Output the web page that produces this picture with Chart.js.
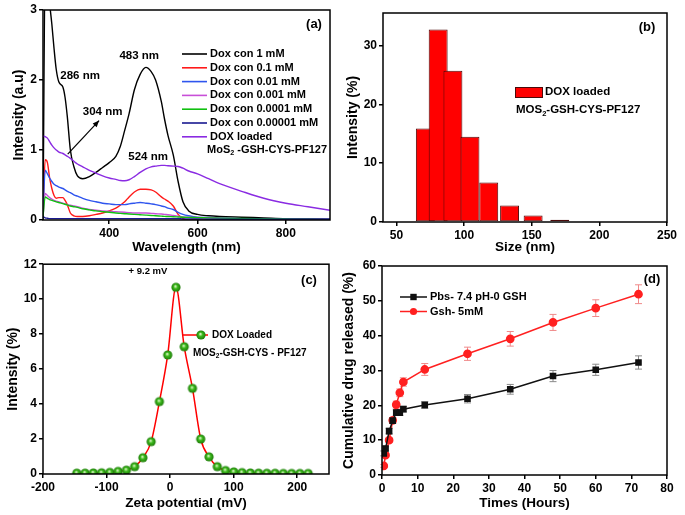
<!DOCTYPE html>
<html>
<head>
<meta charset="utf-8">
<script src="https://cdn.jsdelivr.net/npm/chart.js@4.4.1/dist/chart.umd.min.js"></script>
<style>
  html, body { margin: 0; padding: 0; background: #fff; }
  #wrap { position: relative; width: 685px; height: 515px; overflow: hidden; }
  canvas { position: absolute; }
</style>
</head>
<body>
<div id="wrap">
  <canvas id="chartA" width="340" height="255" style="left:0;top:0"></canvas>
  <canvas id="chartB" width="345" height="255" style="left:340px;top:0"></canvas>
  <canvas id="chartC" width="340" height="260" style="left:0;top:255px"></canvas>
  <canvas id="chartD" width="345" height="260" style="left:340px;top:255px"></canvas>
</div>
<script>
// (a) UV-vis spectra
const wavelengths = [250, 255, 260, 265, 270, 275, 280, 286, 295, 300, 305, 312, 320, 328, 340, 355, 370, 385, 400, 415, 425, 435, 445, 457, 470, 483, 495, 505, 518, 525, 533, 545, 556, 567, 580, 600, 625, 650, 700, 750, 800, 850, 900];
const dox1mM = [0, 3.6, 3.5, 3.1, 2.8, 2.45, 2.15, 1.97, 1.9, 1.75, 1.48, 1.0, 0.76, 0.63, 0.59, 0.62, 0.68, 0.75, 0.82, 0.91, 1.05, 1.28, 1.52, 1.86, 2.08, 2.18, 2.12, 2.0, 1.69, 1.45, 1.21, 0.93, 0.55, 0.26, 0.13, 0.08, 0.06, 0.05, 0.04, 0.03, 0.02, 0.02, 0.01];
const dox01mM = [0.1, 0.86, 0.82, 0.6, 0.45, 0.35, 0.31, 0.32, 0.32, 0.28, 0.22, 0.1, 0.06, 0.05, 0.05, 0.06, 0.08, 0.1, 0.13, 0.17, 0.21, 0.26, 0.33, 0.4, 0.44, 0.44, 0.43, 0.4, 0.33, 0.3, 0.27, 0.2, 0.08, 0.02, 0, 0, 0, 0, 0, 0, 0, 0, 0];
const dox001mM = [0.1, 0.71, 0.66, 0.6, 0.55, 0.51, 0.49, 0.47, 0.45, 0.43, 0.41, 0.39, 0.36, 0.34, 0.31, 0.28, 0.26, 0.24, 0.23, 0.22, 0.22, 0.22, 0.23, 0.24, 0.25, 0.24, 0.23, 0.22, 0.2, 0.19, 0.17, 0.15, 0.11, 0.08, 0.06, 0.04, 0.035, 0.03, 0.02, 0.015, 0.01, 0.01, 0.01];
const dox0001mM = [0.05, 0.38, 0.35, 0.32, 0.3, 0.28, 0.27, 0.26, 0.24, 0.23, 0.22, 0.21, 0.2, 0.19, 0.17, 0.15, 0.14, 0.13, 0.125, 0.12, 0.115, 0.11, 0.105, 0.1, 0.1, 0.1, 0.095, 0.09, 0.085, 0.08, 0.075, 0.065, 0.055, 0.045, 0.04, 0.035, 0.03, 0.025, 0.02, 0.015, 0.01, 0.01, 0.01];
const dox00001mM = [0.05, 0.33, 0.31, 0.29, 0.28, 0.27, 0.26, 0.25, 0.235, 0.225, 0.215, 0.2, 0.19, 0.18, 0.16, 0.145, 0.13, 0.12, 0.11, 0.1, 0.095, 0.09, 0.085, 0.08, 0.075, 0.07, 0.065, 0.06, 0.055, 0.052, 0.05, 0.046, 0.043, 0.04, 0.037, 0.034, 0.03, 0.027, 0.022, 0.018, 0.014, 0.01, 0.008];
const dox000001mM = [0.05, 0.03, 0.025, 0.02, 0.02, 0.02, 0.02, 0.02, 0.02, 0.02, 0.02, 0.02, 0.02, 0.02, 0.02, 0.02, 0.02, 0.02, 0.02, 0.02, 0.02, 0.02, 0.02, 0.02, 0.02, 0.02, 0.02, 0.02, 0.02, 0.02, 0.02, 0.02, 0.02, 0.015, 0.015, 0.015, 0.01, 0.01, 0.01, 0.01, 0.01, 0.01, 0.01];
const doxLoaded = [1.2, 1.19, 1.17, 1.12, 1.07, 1.03, 1.0, 0.97, 0.95, 0.93, 0.91, 0.88, 0.84, 0.8, 0.76, 0.71, 0.67, 0.63, 0.6, 0.58, 0.565, 0.56, 0.575, 0.62, 0.68, 0.73, 0.76, 0.77, 0.78, 0.78, 0.775, 0.77, 0.765, 0.74, 0.7, 0.66, 0.59, 0.52, 0.41, 0.31, 0.24, 0.19, 0.14];
const uvLabels = ['Dox con 1 mM', 'Dox con 0.1 mM', 'Dox con 0.01 mM', 'Dox con 0.001 mM', 'Dox con 0.0001 mM', 'Dox con 0.00001 mM', 'DOX loaded'];
const uvXTicks = [400, 600, 800];
const uvYTicks = [0, 1, 2, 3];

// (b) size distribution
const sizeCenters = [71.3, 80.8, 91.7, 104.3, 118.2, 133.6, 151.0, 170.7, 193.8];
const sizeIntensity = [15.9, 32.7, 25.7, 14.5, 6.7, 2.8, 1.1, 0.4, 0.1];
const sizeXTicks = [50, 100, 150, 200, 250];
const sizeYTicks = [0, 10, 20, 30];

// (c) zeta potential
const zetaPotential = [-146.8, -133.8, -120.8, -107.8, -94.8, -81.8, -68.8, -55.8, -42.8, -29.8, -16.8, -3.8, 9.2, 22.2, 35.2, 48.2, 61.2, 74.2, 87.2, 100.2, 113.2, 126.2, 139.2, 152.2, 165.2, 178.2, 191.2, 204.2, 217.2];
const zetaIntensity = [0.05, 0.05, 0.06, 0.07, 0.09, 0.15, 0.22, 0.42, 0.93, 1.85, 4.14, 6.81, 10.68, 7.28, 4.9, 2.0, 0.98, 0.42, 0.2, 0.12, 0.08, 0.06, 0.05, 0.04, 0.04, 0.03, 0.03, 0.03, 0.03];
const zetaXTicks = [-200, -100, 0, 100, 200];
const zetaYTicks = [0, 2, 4, 6, 8, 10, 12];

// (d) drug release
const releaseHours = [0.5, 1, 2, 3, 4, 5, 6, 12, 24, 36, 48, 60, 72];
const releasePbs = [6.2, 7.6, 12.6, 15.6, 17.9, 17.9, 18.9, 20.1, 21.9, 24.6, 28.4, 30.2, 32.3];
const releasePbsErr = [0.7, 0.7, 0.8, 0.8, 0.8, 0.8, 0.8, 1.0, 1.2, 1.4, 1.6, 1.6, 1.9];
const releaseGsh = [2.6, 5.7, 10.0, 15.7, 20.2, 23.6, 26.7, 30.3, 34.8, 39.1, 43.8, 47.9, 51.9];
const releaseGshErr = [0.4, 0.5, 0.6, 0.8, 1.0, 1.1, 1.2, 1.7, 1.9, 2.1, 2.3, 2.4, 2.7];
const releaseXTicks = [0, 10, 20, 30, 40, 50, 60, 70, 80];
const releaseYTicks = [0, 10, 20, 30, 40, 50, 60];

const FONT = '"Liberation Sans", Arial, Helvetica, sans-serif';
Chart.defaults.font.family = FONT;
Chart.defaults.color = '#000';

function pts(xs, ys) {
  return xs.map((x, i) => ({ x: x, y: ys[i] }));
}

// linear axis with fixed ticks and a fixed box size
function axis(o) {
  return {
    type: 'linear',
    min: o.min,
    max: o.max,
    offset: false,
    afterBuildTicks: s => { s.ticks = o.ticks.map(v => ({ value: v })); },
    afterFit: s => {
      if (o.width) s.width = o.width;
      if (o.height) s.height = o.height;
    },
    grid: { display: true, offset: false, drawOnChartArea: false, drawTicks: true, tickLength: 4, color: '#000', lineWidth: 1.5 },
    border: { display: false },
    ticks: { color: '#000', padding: 2, maxRotation: 0, autoSkip: false, font: { size: 12, weight: 'bold' } },
    title: {
      display: true, text: o.title, color: '#000',
      font: { size: o.titleSize || 14, weight: 'bold' },
      padding: { top: o.titlePad || 0, bottom: o.titlePad || 0 }
    }
  };
}

function text(ctx, s, x, y, size, align) {
  ctx.font = 'bold ' + size + 'px ' + FONT;
  ctx.textAlign = align || 'left';
  ctx.textBaseline = 'middle';
  ctx.fillStyle = '#000';
  ctx.fillText(s, x, y);
}

// text with a subscript part: parts = [[str, isSub], ...]
function richText(ctx, parts, x, y, size) {
  let cx = x;
  ctx.textAlign = 'left';
  ctx.textBaseline = 'middle';
  ctx.fillStyle = '#000';
  parts.forEach(p => {
    const sz = p[1] ? size * 0.65 : size;
    ctx.font = 'bold ' + sz + 'px ' + FONT;
    ctx.fillText(p[0], cx, y + (p[1] ? size * 0.32 : 0));
    cx += ctx.measureText(p[0]).width;
  });
}

const framePlugin = {
  id: 'frame',
  afterDraw(chart) {
    const ctx = chart.ctx, a = chart.chartArea;
    ctx.save();
    ctx.strokeStyle = '#000';
    ctx.lineWidth = 1.5;
    ctx.strokeRect(a.left, a.top, a.right - a.left, a.bottom - a.top);
    ctx.restore();
  }
};

const baseOptions = {
  responsive: false,
  animation: false,
  devicePixelRatio: 1,
  plugins: { legend: { display: false }, tooltip: { enabled: false } }
};

// ---------- (a) ----------
const uvSeries = [dox1mM, dox01mM, dox001mM, dox0001mM, dox00001mM, dox000001mM, doxLoaded];
const uvColors = ['#000000', '#ff1a1a', '#2f55ee', '#c84fd8', '#10c010', '#1a1a90', '#8a2be2'];

new Chart(document.getElementById('chartA'), {
  type: 'line',
  data: {
    datasets: uvSeries.map((s, i) => ({
      label: uvLabels[i],
      data: pts(wavelengths, s),
      borderColor: uvColors[i],
      borderWidth: 1.4,
      pointRadius: 0,
      cubicInterpolationMode: 'monotone'
    })).reverse()
  },
  options: Object.assign({}, baseOptions, {
    layout: { padding: { top: 10, right: 10, left: 0, bottom: 0 } },
    scales: {
      x: axis({ min: 250, max: 900, ticks: uvXTicks, height: 35, title: 'Wavelength (nm)', titleSize: 13.5 }),
      y: axis({ min: 0, max: 3, ticks: uvYTicks, width: 43, title: 'Intensity (a.u)', titlePad: 11 })
    }
  }),
  plugins: [framePlugin, {
    id: 'decorA',
    afterDraw(chart) {
      const ctx = chart.ctx, xs = chart.scales.x, ys = chart.scales.y;
      const px = v => xs.getPixelForValue(v), py = v => ys.getPixelForValue(v);
      ctx.save();
      text(ctx, '(a)', 314, 24, 13, 'center');
      text(ctx, '286 nm', px(334), py(2.06), 11.5, 'center');
      text(ctx, '483 nm', px(468), py(2.34), 11.5, 'center');
      text(ctx, '304 nm', px(385), py(1.54), 11.5, 'center');
      text(ctx, '524 nm', px(488), py(0.9), 11.5, 'center');
      // arrow to the 304 nm shoulder
      const x0 = px(306), y0 = py(0.94), x1 = px(377), y1 = py(1.42);
      ctx.strokeStyle = '#000'; ctx.fillStyle = '#000'; ctx.lineWidth = 1.2;
      ctx.beginPath(); ctx.moveTo(x0, y0); ctx.lineTo(x1, y1); ctx.stroke();
      const ang = Math.atan2(y1 - y0, x1 - x0), L = 7;
      ctx.beginPath();
      ctx.moveTo(x1, y1);
      ctx.lineTo(x1 - L * Math.cos(ang - 0.4), y1 - L * Math.sin(ang - 0.4));
      ctx.lineTo(x1 - L * Math.cos(ang + 0.4), y1 - L * Math.sin(ang + 0.4));
      ctx.closePath(); ctx.fill();
      // legend
      uvLabels.forEach((lab, i) => {
        const y = 54 + i * 13.8;
        ctx.strokeStyle = uvColors[i]; ctx.lineWidth = 1.6;
        ctx.beginPath(); ctx.moveTo(182, y); ctx.lineTo(207, y); ctx.stroke();
        text(ctx, lab, 210, y, 11);
      });
      richText(ctx, [['MoS', 0], ['2', 1], [' -GSH-CYS-PF127', 0]], 207, 150, 11);
      ctx.restore();
    }
  }]
});

// ---------- (b) ----------
const binWidthNm = 14;
let minGap = Infinity;
for (let i = 1; i < sizeCenters.length; i++) minGap = Math.min(minGap, sizeCenters[i] - sizeCenters[i - 1]);

new Chart(document.getElementById('chartB'), {
  type: 'bar',
  data: {
    datasets: [{
      label: 'DOX loaded MOS2-GSH-CYS-PF127',
      data: pts(sizeCenters, sizeIntensity),
      backgroundColor: '#ff0000',
      borderColor: '#4a0a0a',
      borderWidth: 1,
      borderSkipped: false,
      categoryPercentage: 1,
      barPercentage: binWidthNm / minGap
    }]
  },
  options: Object.assign({}, baseOptions, {
    layout: { padding: { top: 13, right: 18, left: 0, bottom: 0 } },
    scales: {
      x: axis({ min: 40, max: 250, ticks: sizeXTicks, height: 33, title: 'Size (nm)', titleSize: 13.5 }),
      y: axis({ min: 0, max: 35.5, ticks: sizeYTicks, width: 43, title: 'Intensity (%)', titlePad: 5 })
    }
  }),
  plugins: [framePlugin, {
    id: 'decorB',
    afterDraw(chart) {
      const ctx = chart.ctx;
      ctx.save();
      text(ctx, '(b)', 307, 27, 13, 'center');
      ctx.fillStyle = '#ff0000'; ctx.strokeStyle = '#4a0a0a'; ctx.lineWidth = 1;
      ctx.fillRect(175, 87, 27, 10); ctx.strokeRect(175.5, 87.5, 27, 10);
      text(ctx, 'DOX loaded', 205, 92, 11.5);
      richText(ctx, [['MOS', 0], ['2', 1], ['-GSH-CYS-PF127', 0]], 176, 110, 11.5);
      ctx.restore();
    }
  }]
});

// ---------- (c) ----------
function makeBall(r) {
  const c = document.createElement('canvas');
  const s = Math.ceil(r * 2 + 2);
  c.width = s; c.height = s;
  const g = c.getContext('2d');
  const m = s / 2;
  const grad = g.createRadialGradient(m - r * 0.15, m - r * 0.25, 0, m, m, r);
  grad.addColorStop(0, '#f2f2f2');
  grad.addColorStop(0.22, '#9be07a');
  grad.addColorStop(0.45, '#3cb81e');
  grad.addColorStop(1, '#1c7a06');
  g.fillStyle = grad;
  g.beginPath(); g.arc(m, m, r, 0, Math.PI * 2); g.fill();
  return c;
}
const ball = makeBall(4.6);

new Chart(document.getElementById('chartC'), {
  type: 'line',
  data: {
    datasets: [{
      label: 'DOX Loaded MOS2-GSH-CYS - PF127',
      data: pts(zetaPotential, zetaIntensity),
      borderColor: '#ff0000',
      borderWidth: 1.5,
      pointStyle: ball,
      pointRadius: 5,
      cubicInterpolationMode: 'monotone'
    }]
  },
  options: Object.assign({}, baseOptions, {
    layout: { padding: { top: 9, right: 11, left: 0, bottom: 0 } },
    scales: {
      x: axis({ min: -200, max: 250, ticks: zetaXTicks, height: 41, title: 'Zeta potential (mV)', titleSize: 13.5, titlePad: 4 }),
      y: axis({ min: 0, max: 12, ticks: zetaYTicks, width: 43, title: 'Intensity (%)', titlePad: 5 })
    }
  }),
  plugins: [framePlugin, {
    id: 'decorC',
    afterDraw(chart) {
      const ctx = chart.ctx;
      ctx.save();
      text(ctx, '(c)', 309, 25, 13, 'center');
      text(ctx, '+ 9.2 mV', 148, 16, 9.5, 'center');
      ctx.strokeStyle = '#ff0000'; ctx.lineWidth = 1.5;
      ctx.beginPath(); ctx.moveTo(183, 80); ctx.lineTo(208, 80); ctx.stroke();
      ctx.drawImage(ball, 201 - ball.width / 2, 80 - ball.height / 2);
      text(ctx, 'DOX Loaded', 212, 80, 10);
      richText(ctx, [['MOS', 0], ['2', 1], ['-GSH-CYS - PF127', 0]], 193, 98, 10);
      ctx.restore();
    }
  }]
});

// ---------- (d) ----------
const errorBarPlugin = {
  id: 'errorBars',
  beforeDatasetsDraw(chart) {
    const ctx = chart.ctx, xs = chart.scales.x, ys = chart.scales.y;
    ctx.save();
    chart.data.datasets.forEach(ds => {
      ctx.strokeStyle = ds.errColor; ctx.lineWidth = 1;
      ds.data.forEach((p, i) => {
        const x = xs.getPixelForValue(p.x);
        const yt = ys.getPixelForValue(p.y + ds.err[i]);
        const yb = ys.getPixelForValue(p.y - ds.err[i]);
        ctx.beginPath();
        ctx.moveTo(x, yt); ctx.lineTo(x, yb);
        ctx.moveTo(x - 3.5, yt); ctx.lineTo(x + 3.5, yt);
        ctx.moveTo(x - 3.5, yb); ctx.lineTo(x + 3.5, yb);
        ctx.stroke();
      });
    });
    ctx.restore();
  }
};

new Chart(document.getElementById('chartD'), {
  type: 'line',
  data: {
    datasets: [{
      label: 'Pbs- 7.4 pH-0 GSH',
      data: pts(releaseHours, releasePbs),
      err: releasePbsErr,
      errColor: '#8a8a8a',
      borderColor: '#111',
      backgroundColor: '#111',
      borderWidth: 1.5,
      pointStyle: 'rect',
      pointRadius: 3.6
    }, {
      label: 'Gsh- 5mM',
      data: pts(releaseHours, releaseGsh),
      err: releaseGshErr,
      errColor: '#f08a8a',
      borderColor: '#ff2020',
      backgroundColor: '#ff2020',
      borderWidth: 1.5,
      pointStyle: 'circle',
      pointRadius: 3.6
    }]
  },
  options: Object.assign({}, baseOptions, {
    layout: { padding: { top: 11, right: 18, left: 0, bottom: 0 } },
    scales: {
      x: axis({ min: 0, max: 80, ticks: releaseXTicks, height: 40, title: 'Times (Hours)', titleSize: 13.5, titlePad: 4 }),
      y: axis({ min: 0, max: 60, ticks: releaseYTicks, width: 42, title: 'Cumulative drug released (%)', titlePad: 1 })
    }
  }),
  plugins: [errorBarPlugin, framePlugin, {
    id: 'decorD',
    afterDraw(chart) {
      const ctx = chart.ctx;
      ctx.save();
      text(ctx, '(d)', 312, 24, 13, 'center');
      chart.data.datasets.forEach((ds, i) => {
        const y = 42 + i * 14.5;
        ctx.strokeStyle = ds.borderColor; ctx.fillStyle = ds.backgroundColor; ctx.lineWidth = 1.5;
        ctx.beginPath(); ctx.moveTo(60, y); ctx.lineTo(87, y); ctx.stroke();
        if (ds.pointStyle === 'rect') {
          ctx.fillRect(73.5 - 3.2, y - 3.2, 6.4, 6.4);
        } else {
          ctx.beginPath(); ctx.arc(73.5, y, 3.6, 0, Math.PI * 2); ctx.fill();
        }
        text(ctx, ds.label, 90, y, 11);
      });
      ctx.restore();
    }
  }]
});
</script>
</body>
</html>
